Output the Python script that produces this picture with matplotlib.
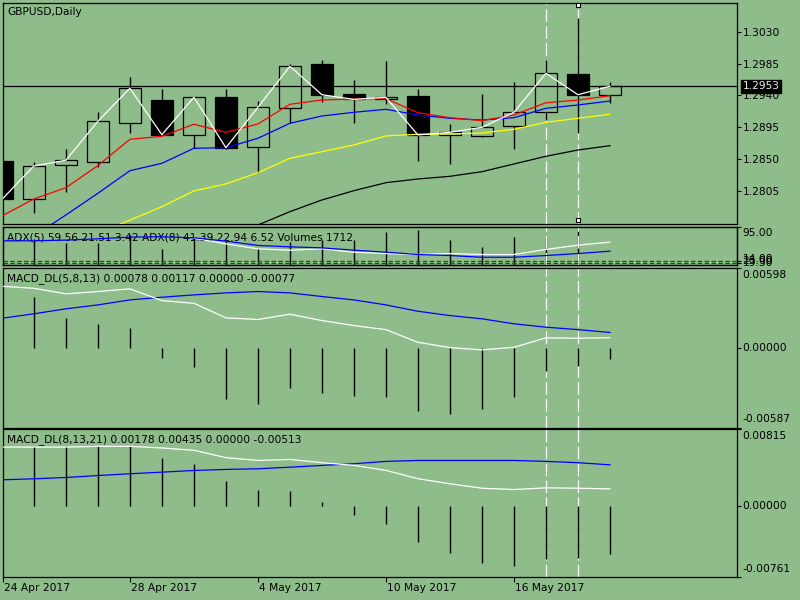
import matplotlib
matplotlib.use('Agg')
import matplotlib.pyplot as plt
import numpy as np

nan = np.nan
BG = '#8fbc8b'

# ---------------- data ----------------
dates = ['24 Apr', '25 Apr', '26 Apr', '27 Apr', '28 Apr', '1 May', '2 May', '3 May',
         '4 May', '5 May', '8 May', '9 May', '10 May', '11 May', '12 May', '15 May',
         '16 May', '17 May', '18 May', '19 May']
tick_idx = [0, 4, 8, 12, 16]
tick_labels = ['24 Apr 2017', '28 Apr 2017', '4 May 2017', '10 May 2017', '16 May 2017']

opens = [1.28476, 1.27936, 1.28415, 1.28466, 1.29016, 1.29336, 1.28847, 1.29379, 1.28669, 1.29219,
         1.29844, 1.29417, 1.29346, 1.29393, 1.28843, 1.28824, 1.28965, 1.29163, 1.29703, 1.29403]
highs = [1.28520, 1.28458, 1.28645, 1.29167, 1.29661, 1.29492, 1.29380, 1.29492, 1.29322, 1.29844,
         1.29901, 1.29619, 1.29887, 1.29492, 1.28998, 1.29421, 1.29590, 1.29897, 1.30489, 1.29590]
lows = [1.27900, 1.27738, 1.28043, 1.28396, 1.28875, 1.28840, 1.28655, 1.28641, 1.28311, 1.29008,
        1.29308, 1.29016, 1.29276, 1.28476, 1.28434, 1.28810, 1.28650, 1.29054, 1.28875, 1.29290]
closes = [1.27933, 1.28405, 1.28486, 1.29036, 1.29502, 1.28847, 1.29375, 1.28664, 1.29234, 1.29812,
          1.29411, 1.29345, 1.29375, 1.28843, 1.28881, 1.28951, 1.29163, 1.29713, 1.29411, 1.29530]

ma_red = [1.27700, 1.27940, 1.28099, 1.28410, 1.28782, 1.28824, 1.28994, 1.28881, 1.28998, 1.29276,
          1.29336, 1.29351, 1.29355, 1.29157, 1.29087, 1.29045, 1.29125, 1.29298, 1.29336, 1.29397]
ma_blue = [1.27150, 1.27418, 1.27714, 1.28020, 1.28339, 1.28443, 1.28655, 1.28664, 1.28796, 1.29008,
           1.29111, 1.29163, 1.29205, 1.29125, 1.29078, 1.29054, 1.29087, 1.29219, 1.29266, 1.29322]
ma_yellow = [nan, nan, nan, 1.27453, 1.27641, 1.27831, 1.28053, 1.28152, 1.28311, 1.28514,
             1.28607, 1.28702, 1.28829, 1.28853, 1.28857, 1.28871, 1.28923, 1.29022, 1.29078, 1.29135]
ma_black = [nan, nan, nan, nan, nan, nan, nan, nan, 1.27573, 1.27761,
            1.27926, 1.28057, 1.28170, 1.28222, 1.28260, 1.28325, 1.28434, 1.28542, 1.28631, 1.28692]

price_ticks = [1.3030, 1.2985, 1.2940, 1.2895, 1.2850, 1.2805]

adx_blue = [65.4, 65.4, 66.9, 69.6, 73.2, 73.9, 71.7, 64.8, 55.7, 52.7,
            50.6, 45.7, 41.5, 36.6, 34.5, 30.9, 30.9, 34.5, 38.7, 43.6]
adx_white = [nan, nan, nan, nan, nan, nan, 71.1, 59.0, 48.5, 45.7,
             48.5, 41.5, 38.7, 36.6, 38.7, 36.6, 36.6, 47.2, 56.3, 62.6]
volumes = [nan, 25700, 21700, 21700, 29700, 15700, 28300, 24000, 17300, 23000,
           25000, 25000, 33000, 35000, 25000, 18300, 28000, 27300, 35700, 1712]
adx_levels = [23.0, 19.3]

m1_hist = [nan, 0.00383, 0.00225, 0.00176, 0.00153, -0.00074, -0.00141, -0.00375, -0.00412, -0.00296,
           -0.00333, -0.00356, -0.00363, -0.00467, -0.00489, -0.00452, -0.00363, -0.00170, -0.00130, -0.00077]
m1_main = [0.00459, 0.00444, 0.00403, 0.00420, 0.00440, 0.00353, 0.00333, 0.00225, 0.00213, 0.00252,
           0.00205, 0.00168, 0.00138, 0.00044, 0.00005, -0.00012, 0.00007, 0.00077, 0.00074, 0.00078]
m1_signal = [0.00222, 0.00255, 0.00292, 0.00321, 0.00358, 0.00378, 0.00395, 0.00410, 0.00420, 0.00410,
             0.00383, 0.00358, 0.00321, 0.00274, 0.00242, 0.00218, 0.00181, 0.00156, 0.00138, 0.00117]

m2_hist = [nan, 0.00633, 0.00633, 0.00633, 0.00633, 0.00511, 0.00447, 0.00257, 0.00171, 0.00160,
           0.00042, -0.00098, -0.00202, -0.00385, -0.00509, -0.00610, -0.00642, -0.00567, -0.00557, -0.00513]
m2_main = [0.00625, 0.00625, 0.00625, 0.00633, 0.00633, 0.00615, 0.00590, 0.00511, 0.00482, 0.00493,
           0.00458, 0.00429, 0.00375, 0.00286, 0.00232, 0.00185, 0.00171, 0.00189, 0.00185, 0.00178]
m2_signal = [0.00275, 0.00286, 0.00300, 0.00321, 0.00340, 0.00357, 0.00375, 0.00386, 0.00393, 0.00410,
             0.00429, 0.00447, 0.00472, 0.00482, 0.00482, 0.00482, 0.00482, 0.00472, 0.00458, 0.00435]

vline_idx = [17, 18]

title_main = 'GBPUSD,Daily'
title_adx = 'ADX(5) 59.56 21.51 3.42 ADX(8) 41.39 22.94 6.52 Volumes 1712'
title_m1 = 'MACD_DL(5,8,13) 0.00078 0.00117 0.00000 -0.00077'
title_m2 = 'MACD_DL(8,13,21) 0.00178 0.00435 0.00000 -0.00513'

# ---------------- figure ----------------
plt.rcParams['font.family'] = ['DejaVu Sans']
FS = 7.7
PT = 0.72  # points per pixel at dpi 100

fig = plt.figure(figsize=(8, 6), dpi=100, facecolor=BG)


def px_axes(top, bottom, left=2.5, right=737.0):
    return fig.add_axes([left / 800, 1 - bottom / 600, (right - left) / 800, (bottom - top) / 600])


ax_main = px_axes(3, 223.5)
ax_vol = px_axes(226.7, 265.3)
ax_adx = px_axes(226.7, 265.3)
ax_m1 = px_axes(267.5, 427.5)
ax_m2 = px_axes(429.3, 576.7)

x = np.arange(len(dates))
XL = (0.02, 22.97)

for ax in [ax_main, ax_vol, ax_adx, ax_m1, ax_m2]:
    ax.set_xlim(*XL)
    ax.set_facecolor(BG)
    for s in ax.spines.values():
        s.set_color('black')
        s.set_linewidth(0.9)
    ax.tick_params(axis='x', bottom=False, labelbottom=False)
    ax.tick_params(axis='y', left=False, labelleft=False)

ax_adx.patch.set_visible(False)


def rlabel(ax, val, text, dy_px=0.0, **kw):
    ax.annotate(text, xy=(1, val), xycoords=ax.get_yaxis_transform(),
                xytext=(5.5 * PT, dy_px * PT), textcoords='offset points',
                ha='left', va='center', fontsize=FS, color='black',
                annotation_clip=False, **kw)


def right_ticks(ax, vals):
    ax.yaxis.tick_right()
    ax.set_yticks(vals)
    ax.set_yticklabels([''] * len(vals))
    ax.tick_params(axis='y', right=True, direction='out', length=3, width=0.8, colors='black')


def corner_text(ax, text, dy_px):
    ax.annotate(text, xy=(0, 1), xycoords='axes fraction', xytext=(4.5 * PT, -dy_px * PT),
                textcoords='offset points', ha='left', va='center', fontsize=FS,
                color='black', zorder=0.6)


def vlines_dashed(ax):
    for xi in vline_idx:
        ax.axvline(xi, color='white', lw=0.9, ls=(0, (10, 3.5)), zorder=0.8)


# ---- main price panel ----
ax_main.set_ylim(1.27594, 1.30705)
vlines_dashed(ax_main)
o = np.array(opens)
c = np.array(closes)
ax_main.vlines(x, lows, highs, color='black', lw=1.0, zorder=2)
body_colors = [BG if cc >= oo else 'black' for oo, cc in zip(o, c)]
ax_main.bar(x, c - o, bottom=o, width=0.7, color=body_colors, edgecolor='black',
            linewidth=0.9, zorder=3)
ax_main.axhline(closes[-1], color='black', lw=0.9, zorder=3.5)
ax_main.plot(x, ma_black, color='black', lw=0.9, zorder=4)
ax_main.plot(x, ma_yellow, color='#ffff00', lw=0.9, zorder=4)
ax_main.plot(x, ma_blue, color='#0000ff', lw=0.9, zorder=4)
ax_main.plot(x, ma_red, color='#ff0000', lw=0.9, zorder=4)
ax_main.plot(x, closes, color='white', lw=0.9, zorder=5)
# selection markers of the vertical line
from matplotlib.transforms import blended_transform_factory
bt = blended_transform_factory(ax_main.transData, ax_main.transAxes)
ax_main.plot([vline_idx[1], vline_idx[1]], [0.9896, 0.0145], ls='none', marker='s',
             ms=3.2, mfc='white', mec='black', mew=0.8, transform=bt, zorder=6, clip_on=False)

ax_main.yaxis.tick_right()
ax_main.set_yticks(price_ticks)
ax_main.set_yticklabels([f'{p:.4f}' for p in price_ticks])
ax_main.tick_params(axis='y', right=True, labelright=True, direction='out', length=3,
                    width=0.8, labelsize=FS, pad=1.5, colors='black')
ax_main.annotate(f'{closes[-1]:.4f}', xy=(1, closes[-1]), xycoords=ax_main.get_yaxis_transform(),
                 xytext=(5.5 * PT, 0), textcoords='offset points', ha='left', va='center',
                 fontsize=FS, color='#e4f0e2', annotation_clip=False, zorder=10,
                 bbox=dict(boxstyle='square,pad=0.12', fc='black', ec='black'))
corner_text(ax_main, title_main, 9)

# ---- ADX + volumes panel ----
ax_vol.set_ylim(0, 38300)
ax_vol.set_yticks([])
corner_text(ax_vol, title_adx, 10.3)
ax_vol.vlines(x, 0, volumes, color='black', lw=1.0, zorder=2)

ax_adx.set_ylim(14, 95)
vlines_dashed(ax_adx)
for lv in adx_levels:
    ax_adx.axhline(lv, color='#006400', lw=0.9, ls=(0, (3.5, 2)), zorder=1)
ax_adx.plot(x, adx_white, color='white', lw=0.9, zorder=3)
ax_adx.plot(x, adx_blue, color='#0000ff', lw=0.9, zorder=4)
right_ticks(ax_adx, [95] + adx_levels)
rlabel(ax_adx, 95, '95.00', dy_px=-6)
rlabel(ax_adx, 14, '14.00', dy_px=6.5)
for lv in adx_levels:
    rlabel(ax_adx, lv, f'{lv:.2f}')

# ---- MACD 1 ----
ax_m1.set_ylim(-0.00587, 0.00598)
vlines_dashed(ax_m1)
ax_m1.vlines(x, 0, m1_hist, color='black', lw=1.0, zorder=2)
ax_m1.plot(x, m1_signal, color='#0000ff', lw=0.9, zorder=3)
ax_m1.plot(x, m1_main, color='white', lw=0.9, zorder=4)
right_ticks(ax_m1, [0.00598, 0.0, -0.00587])
rlabel(ax_m1, 0.00598, '0.00598', dy_px=-7)
rlabel(ax_m1, 0.0, '0.00000')
rlabel(ax_m1, -0.00587, '-0.00587', dy_px=8)
corner_text(ax_m1, title_m1, 11.4)

# ---- MACD 2 ----
ax_m2.set_ylim(-0.00761, 0.00815)
vlines_dashed(ax_m2)
ax_m2.vlines(x, 0, m2_hist, color='black', lw=1.0, zorder=2)
ax_m2.plot(x, m2_signal, color='#0000ff', lw=0.9, zorder=3)
ax_m2.plot(x, m2_main, color='white', lw=0.9, zorder=4)
right_ticks(ax_m2, [0.00815, 0.0, -0.00761])
rlabel(ax_m2, 0.00815, '0.00815', dy_px=-6.7)
rlabel(ax_m2, 0.0, '0.00000')
rlabel(ax_m2, -0.00761, '-0.00761', dy_px=7.7)
corner_text(ax_m2, title_m2, 10.4)

ax_m2.set_xticks(tick_idx)
ax_m2.set_xticklabels([''] * len(tick_idx))
ax_m2.tick_params(axis='x', bottom=True, direction='out', length=3.5, width=0.8, colors='black')
bx = blended_transform_factory(ax_m2.transData, ax_m2.transAxes)
for ti, tl in zip(tick_idx, tick_labels):
    ax_m2.annotate(tl, xy=(ti, 0), xycoords=bx, xytext=(1 * PT, -11 * PT),
                   textcoords='offset points', ha='left', va='center', fontsize=FS,
                   color='black', annotation_clip=False)

fig.savefig('out.png', dpi=100, facecolor=BG)
